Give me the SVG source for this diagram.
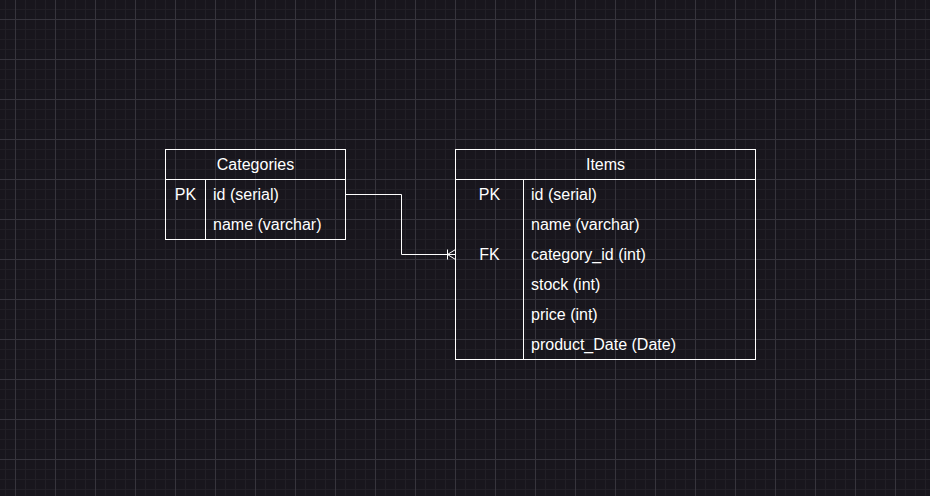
<svg xmlns="http://www.w3.org/2000/svg" width="930" height="496" viewBox="0 0 930 496">
<defs>
<pattern id="minor" x="5" y="9" width="10" height="10" patternUnits="userSpaceOnUse">
<path d="M0 0.5H10M0.5 0V10" stroke="#211f26" stroke-width="1" fill="none"/>
</pattern>
<pattern id="major" x="15" y="19" width="40" height="40" patternUnits="userSpaceOnUse">
<path d="M0 0.5H40M0.5 0V40" stroke="#36343c" stroke-width="1" fill="none"/>
</pattern>
</defs>
<style>
.box{fill:none;stroke:#ffffff;stroke-width:1}
.t{font-family:"Liberation Sans",Arial,sans-serif;font-size:16px;fill:#ffffff;dominant-baseline:central}
.c{text-anchor:middle}
.edge{fill:none;stroke:#ffffff;stroke-width:1}
</style>
<rect width="930" height="496" fill="#18161d"/>
<rect width="930" height="496" fill="url(#minor)"/>
<rect width="930" height="496" fill="url(#major)"/>
<g id="categories">
<rect class="box" x="165.5" y="149.5" width="180" height="90"/>
<line class="box" x1="165.5" y1="179.5" x2="345.5" y2="179.5"/>
<line class="box" x1="205.5" y1="179.5" x2="205.5" y2="239.5"/>
<text class="t c" x="255.5" y="164">Categories</text>
<text class="t c" x="185.5" y="194">PK</text>
<text class="t" x="213" y="194">id (serial)</text>
<text class="t" x="213" y="224">name (varchar)</text>
</g>
<g id="items">
<rect class="box" x="455.5" y="149.5" width="300" height="210"/>
<line class="box" x1="455.5" y1="179.5" x2="755.5" y2="179.5"/>
<line class="box" x1="523.5" y1="179.5" x2="523.5" y2="359.5"/>
<text class="t c" x="605.5" y="164">Items</text>
<text class="t c" x="489.5" y="194">PK</text>
<text class="t" x="531" y="194">id (serial)</text>
<text class="t" x="531" y="224">name (varchar)</text>
<text class="t c" x="489.5" y="254">FK</text>
<text class="t" x="531" y="254">category_id (int)</text>
<text class="t" x="531" y="284">stock (int)</text>
<text class="t" x="531" y="314">price (int)</text>
<text class="t" x="531" y="344">product_Date (Date)</text>
</g>
<g id="connectors">
<path class="edge" d="M345.5 194.5H401.5V254.5H455.5"/>
<path class="edge" d="M447.5 249.5V259.5M447.5 254.5L455.5 249.5M447.5 254.5L455.5 259.5"/>
</g>
</svg>
